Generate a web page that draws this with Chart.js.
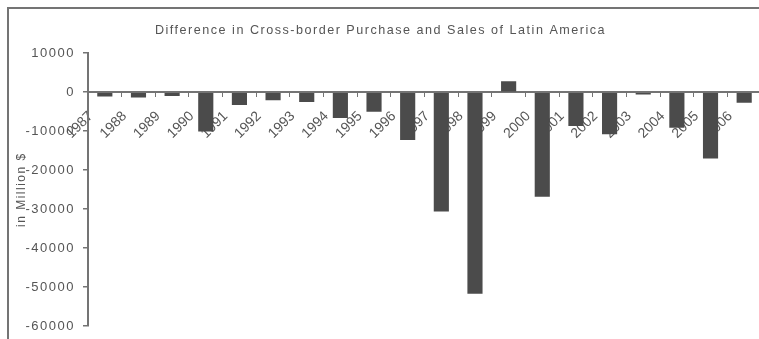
<!DOCTYPE html>
<html>
<head>
<meta charset="utf-8">
<script src="https://cdn.jsdelivr.net/npm/chart.js@4.4.1/dist/chart.umd.min.js"></script>
<style>
    html, body { margin: 0; padding: 0; background: #fff; overflow: hidden; width: 759px; height: 339px; }
    #frame { position: absolute; left: 7px; top: 7px; width: 800px; height: 380px; border: 2px solid #747474; }
    #wrap { position: absolute; left: 0; top: 0; width: 761px; height: 342px; }
</style>
</head>
<body>
<div id="frame"></div>
<div id="wrap"><canvas id="myChart" width="761" height="342"></canvas></div>
<script>
const years = ['1987', '1988', '1989', '1990', '1991', '1992', '1993', '1994', '1995', '1996',
    '1997', '1998', '1999', '2000', '2001', '2002', '2003', '2004', '2005', '2006'];
const difference = [-1100, -1400, -1000, -10100, -3300, -2100, -2500, -6600, -5000, -12300,
    -30600, -51700, 2800, -26800, -8700, -10800, -600, -9100, -17000, -2700];
const yMin = -60000;
const yMax = 10000;
const yStep = 10000;

const inkGrey = '#555555';
const axisGrey = '#747474';

// Tracked-out text for title and y axis; the slanted year labels stay plain
const letterSpacing = {
    id: 'letterSpacing',
    beforeUpdate(chart) { chart.ctx.letterSpacing = '1.5px'; },
    beforeDraw(chart) {
        chart.ctx.letterSpacing = '1.5px';
        const xScale = chart.scales.x;
        if (xScale && !xScale._plainLabels) {
            const drawLabels = xScale.drawLabels.bind(xScale);
            xScale.drawLabels = function (area) {
                const prev = chart.ctx.letterSpacing;
                chart.ctx.letterSpacing = '0px';
                drawLabels(area);
                chart.ctx.letterSpacing = prev;
            };
            xScale._plainLabels = true;
        }
    }
};

let myChart;

document.addEventListener('DOMContentLoaded', function () {
    const canvas = document.getElementById('myChart');
    const ctx = canvas.getContext('2d');

    myChart = new Chart(ctx, {
        type: 'bar',
        data: {
            labels: years,
            datasets: [{
                label: 'Difference',
                data: difference,
                backgroundColor: '#4b4b4b',
                borderWidth: 0,
                barPercentage: 0.45,
                categoryPercentage: 1
            }]
        },
        plugins: [letterSpacing],
        options: {
            responsive: false,
            animation: false,
            layout: { padding: { left: 0, right: 0, top: 0, bottom: 0 } },
            scales: {
                x: {
                    // axis line crosses at zero
                    position: { y: 0 },
                    afterFit: function (scale) {
                        scale.paddingLeft = 0;
                        scale.paddingRight = 0;
                    },
                    grid: { display: true, drawOnChartArea: false, tickLength: 4, color: axisGrey },
                    border: { display: true, color: axisGrey, width: 2 },
                    ticks: {
                        autoSkip: false,
                        minRotation: 45,
                        maxRotation: 45,
                        padding: 12,
                        labelOffset: -14,
                        color: inkGrey,
                        font: { family: 'Liberation Sans', size: 14 }
                    }
                },
                y: {
                    min: yMin,
                    max: yMax,
                    afterFit: function (scale) { scale.width = 88; },
                    grid: { display: true, drawOnChartArea: false, tickLength: 5, color: axisGrey, lineWidth: 1.5 },
                    border: { display: true, color: axisGrey, width: 2 },
                    ticks: {
                        stepSize: yStep,
                        padding: 8,
                        color: inkGrey,
                        font: { family: 'Liberation Sans', size: 13 },
                        callback: function (value) { return String(value); }
                    },
                    title: {
                        display: true,
                        text: 'in Million $',
                        color: inkGrey,
                        padding: { top: 14, bottom: 0 },
                        font: { family: 'Liberation Sans', size: 12 }
                    }
                }
            },
            plugins: {
                legend: { display: false },
                tooltip: { enabled: false },
                title: {
                    display: true,
                    text: 'Difference in Cross-border Purchase and Sales of Latin America',
                    color: inkGrey,
                    padding: { top: 23, bottom: 15 },
                    font: { family: 'Liberation Sans', size: 12.6, weight: 'normal' }
                }
            }
        }
    });
});
</script>
</body>
</html>
